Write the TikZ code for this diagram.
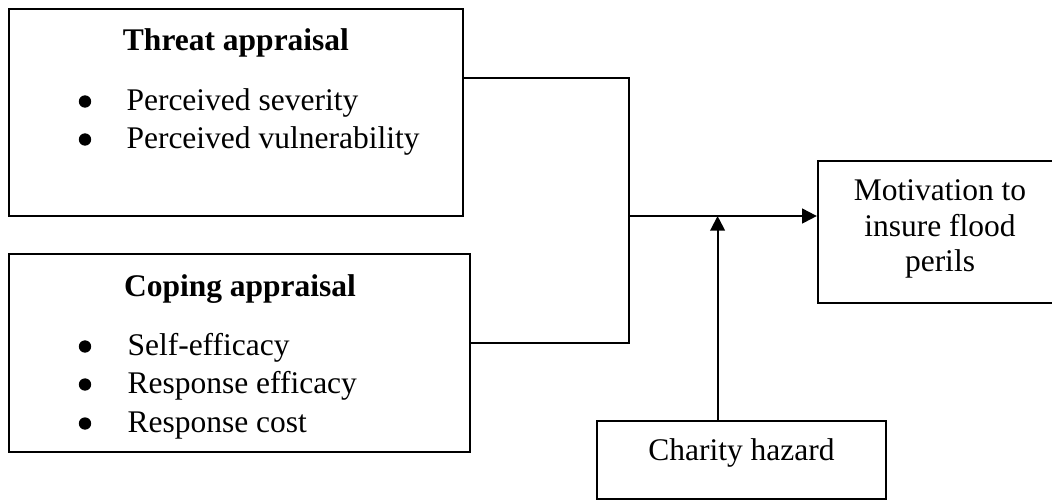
\documentclass[tikz,border=0pt]{standalone}
\usepackage{fontspec}
\setmainfont{Liberation Serif}
\usetikzlibrary{fit,arrows.meta}
\begin{document}
\begin{tikzpicture}[x=0.381pt,y=-0.381pt,
  box/.style={draw, line width=0.85pt, inner sep=0pt},
  txt/.style={anchor=base west, inner sep=0pt, font=\fontsize{12}{14}\selectfont},
  ttl/.style={anchor=base, inner sep=0pt, font=\fontsize{12}{14}\selectfont\bfseries},
  bul/.style={circle, fill=black, inner sep=0pt, minimum size=4.7pt},
  conn/.style={line width=0.75pt},
  arr/.style={conn, -{Triangle[length=5.6pt,width=5.6pt]}}]
\useasboundingbox (0,0) rectangle (1052,501);
\clip (0,0) rectangle (1052,501);
% boxes
\node[box, fit={(9,9) (463,216)}] (threat) {};
\node[box, fit={(9,254) (470,452)}] (coping) {};
\node[box, fit={(818,161) (1062,303)}] (motiv) {};
\node[box, fit={(597,421) (886,499)}] (charity) {};
% threat text
\node[ttl] (tt) at (236,50) {Threat appraisal};
\node[bul] (tb1) at (85,101.5) {};
\node[txt] (t1) at (126,110) {Perceived severity};
\node[bul] (tb2) at (85,139.5) {};
\node[txt] (t2) at (126,148) {Perceived vulnerability};
% coping text
\node[ttl] (ct) at (240,296) {Coping appraisal};
\node[bul] (cb1) at (85,346.5) {};
\node[txt] (c1) at (127,355) {Self-efficacy};
\node[bul] (cb2) at (85,384.5) {};
\node[txt] (c2) at (127,393) {Response efficacy};
\node[bul] (cb3) at (85,423.5) {};
\node[txt] (c3) at (127,432) {Response cost};
% motivation text
\node[inner sep=0pt, align=center, font=\fontsize{12}{13.4}\selectfont] (mt) at (940,229) {Motivation to\\insure flood\\perils};
% charity text
\node[anchor=base, inner sep=0pt, font=\fontsize{12}{14}\selectfont] (cht) at (741.5,460) {Charity hazard};
% connectors
\coordinate (tj) at (629,78);
\coordinate (cj) at (629,343);
\coordinate (jn) at (629,216);
\coordinate (hx) at (717.6,216);
\draw[conn] (tj -| threat.east) -- (tj) -- (cj) -- (cj -| coping.east);
\draw[arr] (jn) -- (jn -| motiv.west);
\draw[arr] (hx |- charity.north) -- (hx);
\end{tikzpicture}
\end{document}
